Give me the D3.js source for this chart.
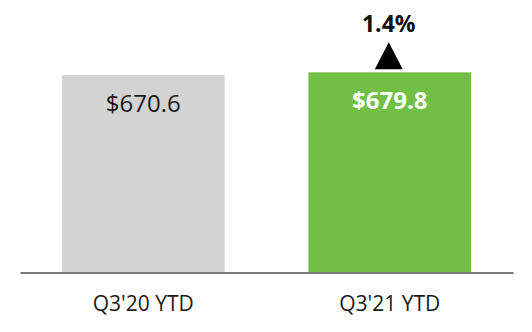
<!DOCTYPE html>
<html>
<head>
<meta charset="utf-8">
<script src="https://cdn.jsdelivr.net/npm/d3@7"></script>
<style>
  html, body { margin: 0; padding: 0; background: #fff; }
  svg { display: block; font-family: "Open Sans", sans-serif; }
</style>
</head>
<body>
<svg id="chart" width="532" height="332"></svg>
<script>
// Two-bar YTD comparison with a growth marker over the latest bar.

const categories = ["Q3'20 YTD", "Q3'21 YTD"];
const values = [670.6, 679.8];
const valueLabels = ["$670.6", "$679.8"];
const changeLabel = "1.4%";

const svg = d3.select("#chart");
const baseY = 273;

const x = d3.scaleBand()
  .domain(categories)
  .range([20, 513])
  .paddingInner(0.34)
  .paddingOuter(0.17);

const y = d3.scaleLinear()
  .domain([0, 700])
  .range([baseY, baseY - 700 * 0.2952]);

// ── bars ────────────────────────────────────────────────────────────────
svg.selectAll("rect.bar")
  .data(values)
  .join("rect")
  .attr("class", "bar")
  .attr("x", (d, i) => x(categories[i]))
  .attr("y", d => y(d))
  .attr("width", x.bandwidth())
  .attr("height", d => y(0) - y(d))
  .attr("fill", (d, i) => i === 0 ? "#d3d3d3" : "#71bf44");

// value labels inside the bars
svg.selectAll("text.val")
  .data(values)
  .join("text")
  .attr("class", "val")
  .attr("x", (d, i) => x(categories[i]) + x.bandwidth() / 2)
  .attr("y", d => y(d) + 37)
  .attr("text-anchor", "middle")
  .attr("font-size", 24)
  .attr("font-weight", (d, i) => i === 0 ? 400 : 700)
  .attr("fill", (d, i) => i === 0 ? "#1a1a1a" : "#ffffff")
  .text((d, i) => valueLabels[i]);

// ── axis ────────────────────────────────────────────────────────────────
const axis = svg.append("g")
  .attr("transform", `translate(0,${baseY - 0.5})`)
  .call(d3.axisBottom(x).tickSize(0).tickSizeOuter(0).tickPadding(24));
axis.select(".domain").attr("stroke", "#7a7a7a").attr("stroke-width", 2);
axis.selectAll(".tick text")
  .attr("font-family", "Open Sans, sans-serif")
  .attr("font-size", 21)
  .attr("fill", "#1a1a1a");

// ── growth marker ──────────────────────────────────────────────────────
const last = categories.length - 1;
const markX = x(categories[last]) + x.bandwidth() / 2 - 1;
const barTop = y(values[last]);
const tri = [[markX - 14, barTop - 3], [markX + 14, barTop - 3], [markX, barTop - 30]];
svg.append("path")
  .attr("d", d3.line()(tri) + "Z")
  .attr("fill", "#000");

svg.append("text")
  .attr("x", markX)
  .attr("y", barTop - 40)
  .attr("text-anchor", "middle")
  .attr("font-size", 23)
  .attr("font-weight", 700)
  .attr("fill", "#111")
  .text(changeLabel);
</script>
</body>
</html>
